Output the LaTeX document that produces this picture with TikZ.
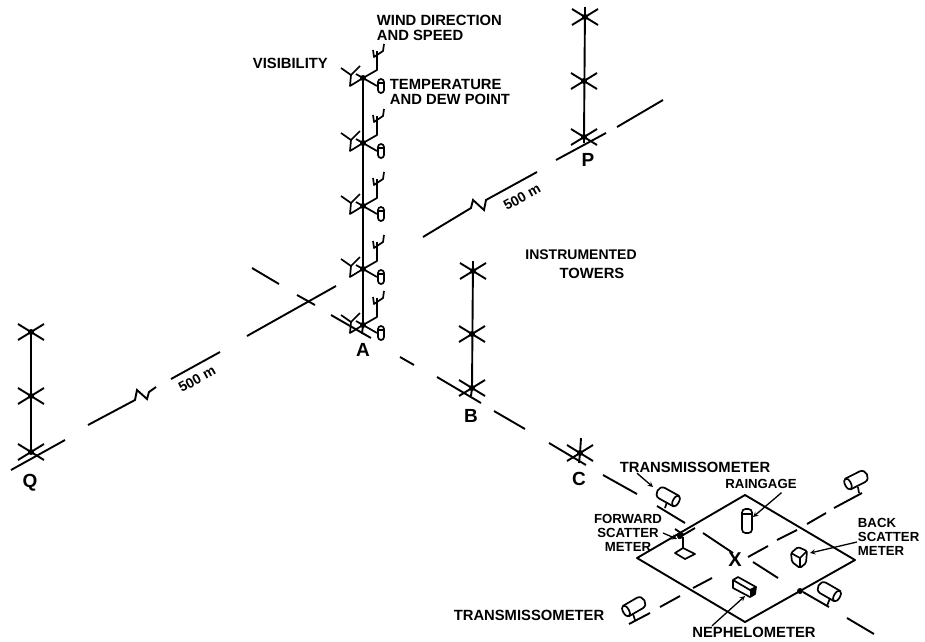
\documentclass[tikz,border=0pt]{standalone}
\usepackage{fontspec}
\setmainfont{Liberation Sans}
\begin{document}
\begin{tikzpicture}[x=1pt, y=-1pt, line width=1.9pt, >=stealth]
    \tikzstyle{label_style}=[inner sep=0pt, font=\fontsize{14.8}{15.5}\selectfont\bfseries]
    \tikzstyle{small_label_style}=[inner sep=0pt, font=\fontsize{13.2}{14}\selectfont\bfseries]
    \tikzstyle{site_style}=[inner sep=0pt, font=\fontsize{19}{19}\selectfont\bfseries]
    \tikzstyle{dist_style}=[inner sep=0pt, rotate=29, font=\fontsize{14}{14}\selectfont\bfseries]
    \tikzstyle{leader_style}=[->, line width=1.3pt]
    \tikzstyle{part_style}=[line width=1.7pt, line join=round]
    \useasboundingbox (0,0) rectangle (925,641);

    % towers Q, P, B, C
    \foreach \x/\y [count=\i] in {31/332,31/396,31/452,585/17,584/81,584/137,473/271,472/334,472/388,580/453}
      \coordinate (mark_\i) at (\x,\y);
    \foreach \i in {1,...,10} {
      \draw ([shift={(-13,-8)}]mark_\i) -- ([shift={(13,8)}]mark_\i);
      \draw ([shift={(13,-8)}]mark_\i) -- ([shift={(-13,8)}]mark_\i);
      \fill (mark_\i) circle (3pt);
    }
    \draw (mark_1) -- (mark_3);
    \draw (585,7) -- (mark_6) -- (584,143);
    \draw (473,261) -- (mark_9) -- (471,396);
    \draw (581,438) -- (mark_10) -- (579,463);

    % tower A with its instruments
    \foreach \y [count=\i] in {78,143,206,269,325}
      \coordinate (tower_a_\i) at (363,\y);
    \draw (tower_a_1) -- (tower_a_5) -- (362,334);
    \foreach \i in {1,...,5} {
      \begin{scope}[shift={(tower_a_\i)}, part_style]
        \fill (0,0) circle (3pt);
        % wind
        \draw (0,0) -- (14,-8) -- (14,-27);
        \draw (10,-28) -- (11,-21) -- (20,-27) -- (21,-34);
        % visibility
        \draw (-7,-4) -- (0,0) -- (-13,8) -- (-12,-3);
        \draw (-22,-10) -- (-12,-3) -- (-3,-12);
        % temperature
        \draw (0,0) -- (14,8);
        \draw[rounded corners=3pt] (15,1) rectangle (21,15);
        \draw (15,5) -- (21,5);
      \end{scope}
    }

    % line Q - P
    \draw (11,470) -- (65,440);
    \draw (88,425) -- (135,400) -- (137,390) -- (147,399) -- (149,392) -- (156,387);
    \draw (171,379) -- (220,352);
    \draw (247,336) -- (336,286);
    \draw (297,295) -- (315,305);
    \draw (423,237) -- (471,208) -- (473,200) -- (484,210) -- (486,200) -- (537,172);
    \draw (556,160) -- (606,133);
    \draw (617,127) -- (663,100);

    % line A - C and on past the plot
    \foreach \xa/\ya/\xb/\yb in {252/268/279/284,331/315/371/338,400/357/414/365,437/377/481/403,494/411/525/429,549/443/586/465,603/475/637/494,657/506/685/523,703/533/733/553,753/562/778/578,803/592/829/607,847/618/874/634}
      \draw (\xa,\ya) -- (\xb,\yb);

    % cross line through the plot
    \foreach \xa/\ya/\xb/\yb in {629/624/650/613,660/607/680/596,693/588/712/578,748/557/768/546,777/540/797/530,807/524/826/513,834/508/862/493}
      \draw (\xa,\ya) -- (\xb,\yb);

    % plot
    \draw[line join=round] (745,495) -- (855,560) -- (745,622) -- (637,558) -- cycle;
    \fill (800,591) circle (3pt);
    \node at (735,560) [inner sep=0pt, font=\fontsize{20}{20}\selectfont\bfseries] (plot_x) {X};

    % transmissometers
    \foreach \x/\y/\r in {676/501/151,848/484/27,626/611/30,837/596/150} {
      \begin{scope}[shift={(\x,\y)}, rotate=\r, part_style]
        \draw (0,-6) -- (16,-6) .. controls (23,-6) and (23,6) .. (16,6) -- (0,6);
        \draw (0,0) circle [x radius=3, y radius=6];
      \end{scope}
    }
    \draw[part_style] (667,502) -- (665,508);
    \draw[part_style] (858,487) -- (859,493);
    \draw[part_style] (633,614) -- (635,620);
    \draw[part_style] (830,598) -- (827,606);

    % raingage
    \draw[part_style, rounded corners=3.5pt] (742,509) rectangle (752,533);
    \draw[part_style] (742,514) -- (752,514);

    % forward scatter meter
    \draw[part_style] (675,553) -- (683,548) -- (695,554) -- (685,559) -- cycle;
    \draw[part_style] (683,548) -- (683,537);
    \draw (675,529) -- (684,535);
    \draw (678,538) -- (695,528);
    \fill (680,536) circle (3pt);

    % back scatter meter
    \draw[part_style, rounded corners=1.5pt] (791,553) -- (798,547) -- (807,551) -- (806,563) -- (800,568) -- (792,562) -- cycle;
    \draw[part_style] (791,553) -- (800,558) -- (807,551);
    \draw[part_style] (800,558) -- (800,568);

    % nephelometer
    \draw[part_style] (733,580) -- (738,577) -- (756,587) -- (755,594) -- (750,597) -- (733,588) -- cycle;
    \draw[part_style] (733,580) -- (750,590) -- (756,587);
    \fill (750,590) -- (756,587) -- (755,594) -- (750,597) -- cycle;

    % labels
    \node at (376,28) [label_style, anchor=west, align=left] (wind_label) {WIND DIRECTION\\AND SPEED};
    \node at (252,63) [label_style, anchor=west] (visibility_label) {VISIBILITY};
    \node at (389,92) [label_style, anchor=west, align=left] (temp_label) {TEMPERATURE\\AND DEW POINT};
    \node at (581,255) [label_style, font=\fontsize{14}{14}\selectfont\bfseries] (instr_label) {INSTRUMENTED};
    \node at (592,273) [label_style] (towers_label) {TOWERS};
    \node at (695,467) [label_style] (trans_label_1) {TRANSMISSOMETER};
    \node at (529,615) [label_style] (trans_label_2) {TRANSMISSOMETER};
    \node at (754,632) [label_style] (neph_label) {NEPHELOMETER};
    \node at (761,484) [small_label_style] (rain_label) {RAINGAGE};
    \node at (628,533) [small_label_style, align=center] (forward_label) {FORWARD\\SCATTER\\METER};
    \node at (857,537) [small_label_style, anchor=west, align=left] (back_label) {BACK\\SCATTER\\METER};

    \node at (30,483) [site_style] (site_q) {Q};
    \node at (363,350) [site_style] (site_a) {A};
    \node at (471,416) [site_style] (site_b) {B};
    \node at (579,479) [site_style] (site_c) {C};
    \node at (588,160) [site_style] (site_p) {P};
    \node at (197,379) [dist_style] (dist_1) {500 m};
    \node at (522,197) [dist_style] (dist_2) {500 m};

    % leaders
    \coordinate (trans_head) at (653,487);
    \coordinate (rain_head) at (753,517);
    \coordinate (forward_head) at (677,539);
    \coordinate (back_head) at (810,553);
    \coordinate (neph_head) at (745,596);
    \draw[leader_style] ([xshift=-58pt]trans_label_1.south) -- (trans_head);
    \draw[leader_style] ([xshift=-16pt,yshift=-3pt]rain_label.south east) -- (rain_head);
    \draw[leader_style] (forward_label.east) -- (forward_head);
    \draw[leader_style] ([yshift=-5pt]back_label.west) -- (back_head);
    \draw[leader_style] ([xshift=-42pt]neph_label.north) -- (neph_head);
\end{tikzpicture}
\end{document}
